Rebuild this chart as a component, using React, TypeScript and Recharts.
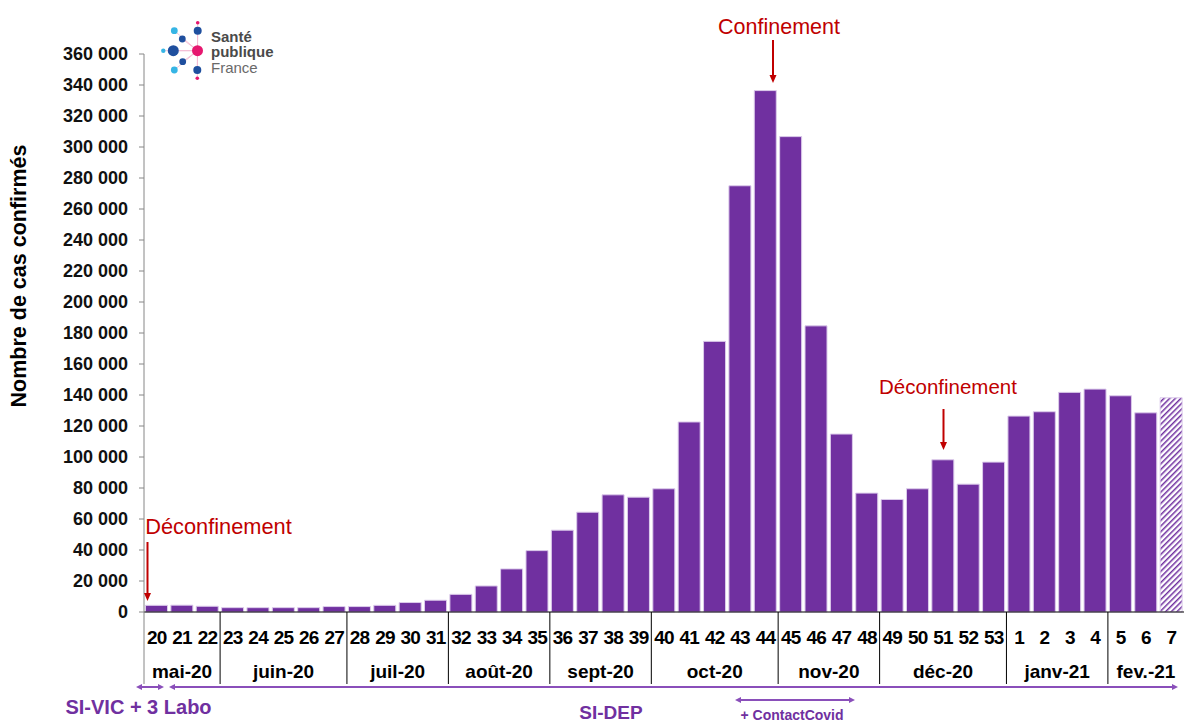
import { Bar, BarChart, Cell, XAxis, YAxis } from "recharts";

// weekly confirmed cases, week 20 of 2020 to week 7 of 2021
const weeks = [
  "20", "21", "22", "23", "24", "25", "26", "27", "28", "29", "30", "31",
  "32", "33", "34", "35", "36", "37", "38", "39", "40", "41", "42", "43",
  "44", "45", "46", "47", "48", "49", "50", "51", "52", "53",
  "1", "2", "3", "4", "5", "6", "7",
];
const cases = [
  4300, 4400, 3700, 2800, 2800, 2800, 2800, 3500, 3500, 4300, 6100, 7600,
  11400, 16800, 27800, 39600, 52800, 64400, 75600, 74100, 79500, 122600, 174600, 275000,
  336400, 306700, 184600, 114800, 76700, 72600, 79500, 98200, 82500, 96700,
  126400, 129200, 141700, 143800, 139500, 128500, 138200,
];
const provisionalWeeks = ["7"];

const months = ["mai-20", "juin-20", "juil-20", "août-20", "sept-20", "oct-20", "nov-20", "déc-20", "janv-21", "fev.-21"];
const monthWeekCounts = [3, 5, 4, 4, 4, 5, 4, 5, 4, 3];

const yTicks = [
  0, 20000, 40000, 60000, 80000, 100000, 120000, 140000, 160000, 180000,
  200000, 220000, 240000, 260000, 280000, 300000, 320000, 340000, 360000,
];

const data = weeks.map((w, i) => ({ week: w, cases: cases[i] }));

const monthStarts: number[] = [];
monthWeekCounts.reduce((acc, n) => {
  monthStarts.push(acc);
  return acc + n;
}, 0);

const W = 1184;
const H = 722;
const PLOT_LEFT = 144;
const PLOT_TOP = 54;
const PLOT_BOTTOM = 612;
const SLOT = (W - PLOT_LEFT) / weeks.length;

const FONT = '"Liberation Sans", Arial, sans-serif';
const PURPLE = "#7030A0";
const ARROW_PURPLE = "#8a4fba";
const RED = "#c00000";

const fmt = (v: number) => String(v).replace(/\B(?=(\d{3})+(?!\d))/g, " ");

function WeekTick(props: any) {
  const { x, payload } = props;
  const i = props.index ?? payload.index;
  const m = monthStarts.indexOf(i);
  const left = x - SLOT / 2;
  return (
    <g>
      <text x={x} y={643.5} textAnchor="middle" fontFamily={FONT} fontWeight="bold" fontSize={19} letterSpacing={-0.8} fill="#000">
        {payload.value}
      </text>
      {m >= 0 && (
        <>
          <line x1={left} x2={left} y1={PLOT_BOTTOM} y2={684} stroke={m === 0 ? "#868686" : "#000"} strokeWidth={1} />
          <text x={left + (monthWeekCounts[m] * SLOT) / 2} y={677.5} textAnchor="middle" fontFamily={FONT} fontWeight="bold" fontSize={19} fill="#000">
            {months[m]}
          </text>
        </>
      )}
    </g>
  );
}

function head(x: number, y: number, dir: "l" | "r" | "d", len: number, half: number, color: string) {
  let pts = "";
  if (dir === "l") pts = `${x},${y} ${x + len},${y - half} ${x + len},${y + half}`;
  if (dir === "r") pts = `${x},${y} ${x - len},${y - half} ${x - len},${y + half}`;
  if (dir === "d") pts = `${x},${y} ${x - half},${y - len} ${x + half},${y - len}`;
  return <polygon points={pts} fill={color} />;
}

function RedArrow({ x, y1, y2 }: { x: number; y1: number; y2: number }) {
  return (
    <g>
      <line x1={x} x2={x} y1={y1} y2={y2 - 6} stroke={RED} strokeWidth={2} />
      {head(x, y2, "d", 8, 3.5, RED)}
    </g>
  );
}

function HArrow({ x1, x2, y, both = true }: { x1: number; x2: number; y: number; both?: boolean }) {
  return (
    <g>
      <line x1={x1 + 3} x2={x2 - 3} y1={y} y2={y} stroke={ARROW_PURPLE} strokeWidth={2} />
      {both && head(x1, y, "l", 6, 3, ARROW_PURPLE)}
      {head(x2, y, "r", 6, 3, ARROW_PURPLE)}
    </g>
  );
}

function Logo() {
  const dark = "#1f4f9e";
  const light = "#36b5e5";
  const pink = "#e6176f";
  const cx = 197.5;
  const cy = 50.7;
  const dots: [number, number, number, string][] = [
    [197.7, 22.7, 1.8, pink],
    [197.7, 30.7, 4, dark],
    [174.3, 30.7, 3.4, light],
    [182.3, 39, 3.4, dark],
    [163.3, 50.7, 2.2, light],
    [173.3, 50.7, 5.5, dark],
    [182.7, 61.7, 3.4, dark],
    [174.3, 70, 3.4, light],
    [197.3, 70, 4, dark],
    [197.3, 78.3, 1.8, pink],
  ];
  return (
    <g>
      {dots.map(([x, y], i) => (
        <line key={"l" + i} x1={cx} y1={cy} x2={x} y2={y} stroke="#f2b6cf" strokeWidth={0.8} />
      ))}
      {dots.map(([x, y, r, c], i) => (
        <circle key={"c" + i} cx={x} cy={y} r={r} fill={c} />
      ))}
      <circle cx={cx} cy={cy} r={5.5} fill={pink} />
      <text x={211} y={41.5} fontFamily={FONT} fontWeight="bold" fontSize={15} fill="#4a4a4a">Santé</text>
      <text x={211} y={57} fontFamily={FONT} fontWeight="bold" fontSize={15} fill="#4a4a4a">publique</text>
      <text x={211} y={73} fontFamily={FONT} fontSize={15} fill="#6a6a6a">France</text>
    </g>
  );
}

export default function App() {
  return (
    <div style={{ position: "absolute", left: 0, top: 0, width: W, height: H, background: "#fff", overflow: "hidden" }}>
      <BarChart
        width={W}
        height={H}
        data={data}
        margin={{ top: PLOT_TOP, right: 0, bottom: 0, left: 0 }}
        barCategoryGap={1.5}
      >
        <defs>
          <pattern id="hatch" patternUnits="userSpaceOnUse" width={4} height={4} patternTransform="rotate(45)">
            <rect width={4} height={4} fill="#fff" />
            <line x1={0} y1={0} x2={0} y2={4} stroke={PURPLE} strokeWidth={3} />
          </pattern>
        </defs>
        <XAxis
          dataKey="week"
          height={H - PLOT_BOTTOM}
          interval={0}
          tickLine={false}
          axisLine={{ stroke: "#000", strokeWidth: 1 }}
          tick={<WeekTick />}
        />
        <YAxis
          width={PLOT_LEFT}
          domain={[0, 360000]}
          ticks={yTicks}
          interval={0}
          tickSize={5}
          tickMargin={11}
          axisLine={{ stroke: "#868686" }}
          tickLine={{ stroke: "#868686" }}
          tickFormatter={fmt}
          tick={{ fill: "#111", fontFamily: FONT, fontWeight: "bold", fontSize: 18 }}
        />
        <Bar dataKey="cases" isAnimationActive={false} stroke="#dccbeb" strokeWidth={1}>
          {data.map((d) => (
            <Cell key={d.week} fill={provisionalWeeks.includes(d.week) ? "url(#hatch)" : PURPLE} />
          ))}
        </Bar>
      </BarChart>

      <svg width={W} height={H} style={{ position: "absolute", left: 0, top: 0, pointerEvents: "none" }}>
        <Logo />
        <text
          x={26}
          y={276}
          transform="rotate(-90, 26, 276)"
          textAnchor="middle"
          fontFamily={FONT}
          fontWeight="bold"
          fontSize={21.5}
          fill="#000"
        >
          Nombre de cas confirmés
        </text>

        <text x={779} y={33.5} textAnchor="middle" fontFamily={FONT} fontSize={21.5} fill={RED}>Confinement</text>
        <RedArrow x={773} y1={40} y2={83} />

        <text x={948} y={394} textAnchor="middle" fontFamily={FONT} fontSize={20.5} fill={RED}>Déconfinement</text>
        <RedArrow x={943.5} y1={409} y2={450} />

        <text x={218.5} y={534} textAnchor="middle" fontFamily={FONT} fontSize={21.8} fill={RED}>Déconfinement</text>
        <RedArrow x={147.5} y1={542} y2={601} />

        <HArrow x1={136} x2={164} y={687} />
        <HArrow x1={169} x2={1178} y={687} />
        <HArrow x1={735} x2={855} y={700} />

        <text x={138.5} y={713.5} textAnchor="middle" fontFamily={FONT} fontWeight="bold" fontSize={20} fill={PURPLE}>SI-VIC + 3 Labo</text>
        <text x={611} y={719} textAnchor="middle" fontFamily={FONT} fontWeight="bold" fontSize={19} fill={PURPLE}>SI-DEP</text>
        <text x={792} y={719.5} textAnchor="middle" fontFamily={FONT} fontWeight="bold" fontSize={14} fill={PURPLE}>+ ContactCovid</text>
      </svg>
    </div>
  );
}
